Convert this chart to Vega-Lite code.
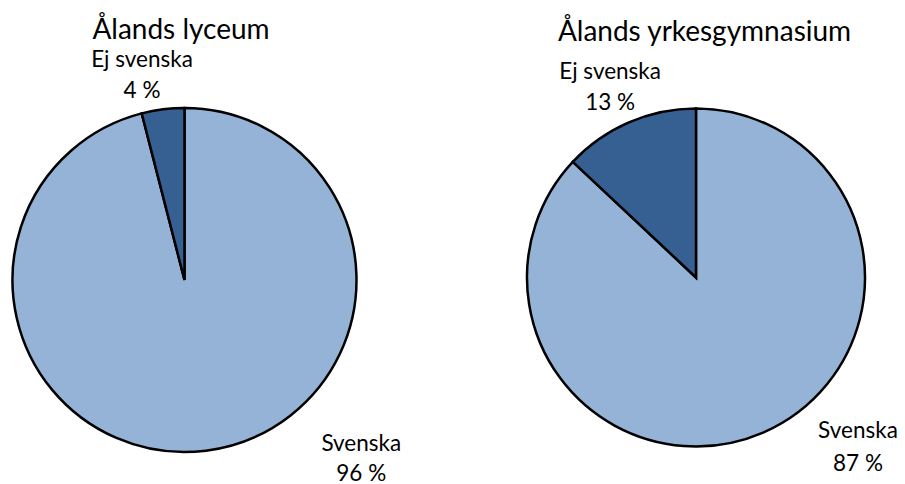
{
  "$schema": "https://vega.github.io/schema/vega-lite/v6.json",
  "width": 905,
  "height": 484,
  "autosize": {"type": "none"},
  "padding": 0,
  "background": "white",
  "config": {"view": {"stroke": null}, "font": "Lato"},
  "data": {
    "values": [
      {"school": "Ålands lyceum", "category": "Svenska", "value": 96, "label": "Svenska\n96 %"},
      {"school": "Ålands lyceum", "category": "Ej svenska", "value": 4, "label": "Ej svenska\n4 %"},
      {"school": "Ålands yrkesgymnasium", "category": "Svenska", "value": 87, "label": "Svenska\n87 %"},
      {"school": "Ålands yrkesgymnasium", "category": "Ej svenska", "value": 13, "label": "Ej svenska\n13 %"}
    ]
  },
  "encoding": {
    "x": {"field": "school", "type": "nominal", "axis": null,
      "scale": {"type": "point", "domain": ["Ålands lyceum", "Ålands yrkesgymnasium"], "range": [184.5, 696], "padding": 0}},
    "y": {"field": "school", "type": "nominal", "axis": null,
      "scale": {"type": "point", "domain": ["Ålands lyceum", "Ålands yrkesgymnasium"], "range": [280, 277.5], "padding": 0}}
  },
  "layer": [
    {
      "transform": [{"filter": "datum.school === 'Ålands lyceum'"}],
      "mark": {"type": "arc", "outerRadius": 172, "stroke": "black", "strokeWidth": 2.5, "strokeJoin": "miter"},
      "encoding": {
        "theta": {"field": "value", "type": "quantitative", "stack": true},
        "color": {"field": "category", "type": "nominal", "legend": null,
          "scale": {"domain": ["Svenska", "Ej svenska"], "range": ["#95B3D7", "#366092"]}},
        "order": {"field": "category", "sort": "descending"}
      }
    },
    {
      "transform": [{"filter": "datum.school === 'Ålands yrkesgymnasium'"}],
      "mark": {"type": "arc", "outerRadius": 169, "stroke": "black", "strokeWidth": 2.5, "strokeJoin": "miter"},
      "encoding": {
        "theta": {"field": "value", "type": "quantitative", "stack": true},
        "color": {"field": "category", "type": "nominal", "legend": null,
          "scale": {"domain": ["Svenska", "Ej svenska"], "range": ["#95B3D7", "#366092"]}},
        "order": {"field": "category", "sort": "descending"}
      }
    },
    {
      "transform": [{"filter": "datum.school === 'Ålands lyceum' && datum.category === 'Ej svenska'"}],
      "mark": {"type": "text", "theta": -0.197, "radius": 217, "fontSize": 22.5, "lineHeight": 31, "lineBreak": "\n", "align": "center", "baseline": "alphabetic", "color": "black"},
      "encoding": {"text": {"field": "label"}}
    },
    {
      "transform": [{"filter": "datum.school === 'Ålands lyceum' && datum.category === 'Svenska'"}],
      "mark": {"type": "text", "theta": 2.34, "radius": 246, "fontSize": 22.5, "lineHeight": 30, "lineBreak": "\n", "align": "center", "baseline": "alphabetic", "color": "black"},
      "encoding": {"text": {"field": "label"}}
    },
    {
      "transform": [{"filter": "datum.school === 'Ålands yrkesgymnasium' && datum.category === 'Ej svenska'"}],
      "mark": {"type": "text", "theta": -0.409, "radius": 216, "fontSize": 22.5, "lineHeight": 31, "lineBreak": "\n", "align": "center", "baseline": "alphabetic", "color": "black"},
      "encoding": {"text": {"field": "label"}}
    },
    {
      "transform": [{"filter": "datum.school === 'Ålands yrkesgymnasium' && datum.category === 'Svenska'"}],
      "mark": {"type": "text", "theta": 2.3515, "radius": 228, "fontSize": 22.5, "lineHeight": 33, "lineBreak": "\n", "align": "center", "baseline": "alphabetic", "color": "black"},
      "encoding": {"text": {"field": "label"}}
    },
    {
      "transform": [{"filter": "datum.school === 'Ålands lyceum' && datum.category === 'Svenska'"}],
      "mark": {"type": "text", "theta": -0.0145, "radius": 241, "fontSize": 28, "align": "center", "baseline": "alphabetic", "color": "black"},
      "encoding": {"text": {"field": "school"}}
    },
    {
      "transform": [{"filter": "datum.school === 'Ålands yrkesgymnasium' && datum.category === 'Svenska'"}],
      "mark": {"type": "text", "theta": 0.0359, "radius": 237, "fontSize": 28, "align": "center", "baseline": "alphabetic", "color": "black"},
      "encoding": {"text": {"field": "school"}}
    }
  ]
}
